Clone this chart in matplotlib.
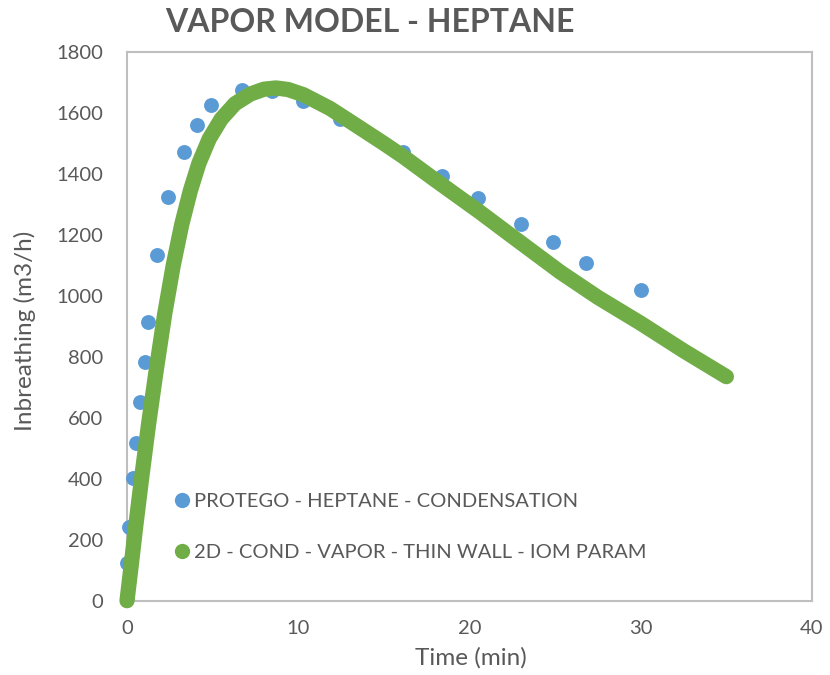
import matplotlib
matplotlib.use('Agg')
import matplotlib.pyplot as plt
from matplotlib.lines import Line2D

plt.rcParams['font.family'] = ['Lato', 'DejaVu Sans']

# 实验数据 (PROTEGO)
protego_t = [0.0, 0.0, 0.13, 0.33, 0.53, 0.76, 1.05, 1.24, 1.77, 2.41, 3.33, 4.07,
             4.89, 6.70, 8.45, 10.26, 12.44, 16.13, 18.41, 20.48, 22.99, 24.89,
             26.79, 30.01]
protego_q = [13, 123, 243, 402, 516, 653, 784, 915, 1134, 1325, 1473, 1561,
             1626, 1675, 1672, 1640, 1579, 1473, 1394, 1322, 1235, 1178,
             1109, 1020]

# 2D 模型曲线
model_t = [0.0, 0.25, 0.5, 0.86, 1.25, 1.69, 2.2, 2.7, 3.2, 3.7, 4.2, 4.8,
           5.5, 6.3, 7.2, 8.0, 8.7, 9.4, 10.3, 11.85, 13.5, 15.0, 16.13,
           18.0, 20.6, 22.5, 25.3, 27.5, 30.0, 32.5, 35.0]
model_q = [0, 118, 240, 405, 575, 750, 940, 1100, 1235, 1345, 1435, 1515,
           1580, 1630, 1662, 1678, 1682, 1677, 1660, 1615, 1555, 1500, 1457,
           1380, 1275, 1195, 1078, 995, 910, 820, 735]

label_protego = 'PROTEGO - HEPTANE - CONDENSATION'
label_model = '2D - COND - VAPOR - THIN WALL - IOM PARAM'

blue = '#5B9BD5'
green = '#70AD47'
grey_text = '#595959'
grey_line = '#BFBFBF'

fig = plt.figure(figsize=(8.3, 6.75), dpi=100)
ax = fig.add_axes([127 / 830, 1 - 600.7 / 675, (812 - 127) / 830, (600.7 - 52) / 675])

ax.scatter(protego_t, protego_q, s=115, color=blue, linewidths=0, zorder=2,
           clip_on=False)
ax.plot(model_t, model_q, color=green, linewidth=11, solid_capstyle='round',
        solid_joinstyle='round', zorder=3, clip_on=False)

ax.set_xlim(0, 40)
ax.set_ylim(0, 1800)
ax.set_xticks(range(0, 41, 10))
ax.set_yticks(range(0, 1801, 200))
ax.tick_params(length=0, labelsize=14.5, labelcolor=grey_text)
ax.tick_params(axis='y', pad=17)
ax.tick_params(axis='x', pad=14)
for s in ax.spines.values():
    s.set_color(grey_line)
    s.set_linewidth(1.5)
    s.set_zorder(1)

fig.text(25 / 830, 1 - 331 / 675, 'Inbreathing (m3/h)', rotation=90, ha='center',
         va='center', fontsize=17.5, color=grey_text)
fig.text(471 / 830, 1 - 658 / 675, 'Time (min)', ha='center', va='center',
         fontsize=17.5, color=grey_text)
fig.text(370 / 830, 1 - 22 / 675, 'VAPOR MODEL - HEPTANE', ha='center', va='center',
         fontsize=23, fontweight='bold', color=grey_text)

# 图例
handles = [Line2D([], [], marker='o', linestyle='none', markersize=11,
                  markerfacecolor=blue, markeredgewidth=0),
           Line2D([], [], marker='o', linestyle='none', markersize=11,
                  markerfacecolor=green, markeredgewidth=0)]
leg = fig.legend(handles, [label_protego, label_model], loc='center left',
                 bbox_to_anchor=(162 / 830, 1 - 527 / 675), frameon=False,
                 fontsize=14.5, labelspacing=1.65, handletextpad=0.1,
                 handlelength=1.0, borderpad=0)
for t in leg.get_texts():
    t.set_color(grey_text)

fig.savefig('out.png', dpi=100, facecolor='white')
